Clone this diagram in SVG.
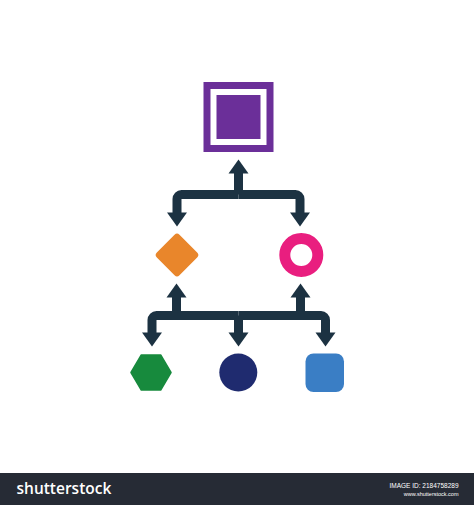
<svg xmlns="http://www.w3.org/2000/svg" width="474" height="505" viewBox="0 0 474 505">
<style>
.conn{fill:none;stroke:#1c3242;stroke-width:9;stroke-linecap:butt;stroke-linejoin:round;marker-end:url(#ah)}
.foot{fill:#ffffff;font-family:"Liberation Sans",Arial,sans-serif}
</style>
<defs>
<marker id="ah" markerUnits="userSpaceOnUse" markerWidth="16" markerHeight="22" viewBox="0 -11 16 22" refX="0.5" refY="0" orient="auto" overflow="visible">
<path d="M0,-10 L14,0 L0,10 z" fill="#1c3242"/>
</marker>
</defs>
<rect width="474" height="505" fill="#ffffff"/>
<g id="connectors">
<path class="conn" d="M238.5,194.5 V173"/>
<path class="conn" d="M238.5,194.5 H181.5 a4.5,4.5 0 0 0 -4.5,4.5 V213"/>
<path class="conn" d="M238.5,194.5 H295.5 a4.5,4.5 0 0 1 4.5,4.5 V213"/>
<path class="conn" d="M176.5,315.5 V297"/>
<path class="conn" d="M300.5,315.5 V297"/>
<path class="conn" d="M238.5,315.5 H156.5 a4.5,4.5 0 0 0 -4.5,4.5 V333"/>
<path class="conn" d="M238.5,315.5 V333"/>
<path class="conn" d="M238.5,315.5 H321 a4.5,4.5 0 0 1 4.5,4.5 V333"/>
</g>
<g id="node-square-top">
<rect x="203.5" y="82" width="70" height="70" fill="#6b2f99"/>
<rect x="210.5" y="89" width="56" height="56" fill="#ffffff"/>
<rect x="216.5" y="95" width="44" height="44" fill="#6b2f99"/>
</g>
<g id="node-diamond">
<rect x="-16" y="-16" width="32" height="32" rx="3.5" fill="#e9862b" transform="translate(177,255) rotate(45)"/>
</g>
<g id="node-ring">
<circle cx="301.3" cy="255" r="16.5" fill="none" stroke="#e91e7f" stroke-width="11"/>
</g>
<g id="node-hexagon">
<polygon points="131,372.5 141.3,355 160.7,355 171,372.5 160.7,390 141.3,390" fill="#178a3d" stroke="#178a3d" stroke-width="1.5" stroke-linejoin="round"/>
</g>
<g id="node-circle">
<circle cx="238.3" cy="372.5" r="19" fill="#1f2b6f"/>
</g>
<g id="node-rounded-square">
<rect x="305.5" y="353.5" width="38.5" height="38.5" rx="8" fill="#3a7ec5"/>
</g>
<g id="footer">
<rect x="0" y="473" width="474" height="32" fill="#262b35"/>
<text x="16.5" y="494" font-size="15.5" font-weight="600" fill="#ffffff" font-family="'Open Sans','Liberation Sans',sans-serif">shutterstock</text>
<text class="foot" x="458.5" y="488" font-size="6.5" text-anchor="end" fill="#d4d7dc">IMAGE ID: 2184758289</text>
<text class="foot" x="458.5" y="495.5" font-size="5.5" text-anchor="end" fill="#b9bdc4">www.shutterstock.com</text>
</g>
</svg>
